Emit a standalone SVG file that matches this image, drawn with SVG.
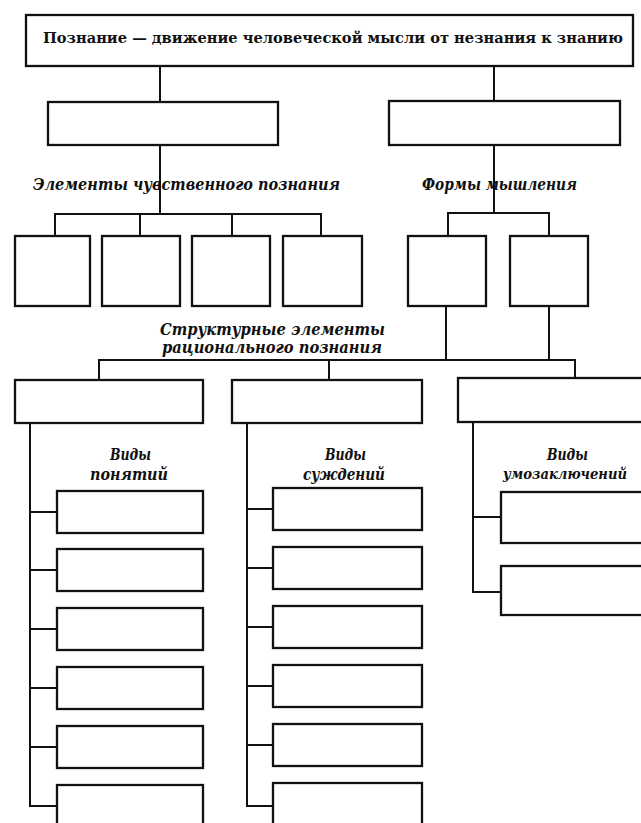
<svg xmlns="http://www.w3.org/2000/svg" width="641" height="823" viewBox="0 0 641 823">
<style>
.box{fill:#fff;stroke:#111;stroke-width:2.3}
.ln{fill:none;stroke:#111;stroke-width:2;stroke-linecap:square}
.title{font-family:"DejaVu Serif","Liberation Serif",serif;font-weight:bold;font-size:15px;fill:#111}
.lbl{font-family:"DejaVu Serif","Liberation Serif",serif;font-weight:bold;font-style:italic;font-size:16px;fill:#111}
</style>
<rect width="641" height="823" fill="#fff"/>
<g id="connectors" class="ln">
<path d="M160 66V102M494 66V101"/>
<path d="M160 145V214M55 214H321M55 214V236M140 214V236M232 214V236M321 214V236"/>
<path d="M494 145V213M448 213H549M448 213V236M549 213V236"/>
<path d="M446 306V360M549 306V360M99 360H575M99 360V380M329 360V380M575 360V378"/>
<path d="M30 423V806M30 512H57M30 570H57M30 629H57M30 688H57M30 747H57M30 806H57"/>
<path d="M247 423V806M247 509H273M247 568H273M247 627H273M247 686H273M247 745H273M247 806H273"/>
<path d="M473 422V592M473 517H501M473 592H501"/>
</g>
<g id="root"><rect class="box" x="26" y="15" width="607" height="51"/><text class="title" x="43" y="43" textLength="580" lengthAdjust="spacingAndGlyphs">Познание — движение человеческой мысли от незнания к знанию</text></g>
<g id="sense"><rect class="box" x="48" y="102" width="230" height="43"/></g>
<g id="rational"><rect class="box" x="389" y="101" width="231" height="44"/></g>
<g id="label-sense"><text class="lbl" x="33" y="190" textLength="307" lengthAdjust="spacingAndGlyphs">Элементы чувственного познания</text></g>
<g id="label-forms"><text class="lbl" x="422" y="190" textLength="155" lengthAdjust="spacingAndGlyphs">Формы мышления</text></g>
<g id="s1"><rect class="box" x="15" y="236" width="75" height="70"/></g>
<g id="s2"><rect class="box" x="102" y="236" width="78" height="70"/></g>
<g id="s3"><rect class="box" x="192" y="236" width="78" height="70"/></g>
<g id="s4"><rect class="box" x="283" y="236" width="79" height="70"/></g>
<g id="f1"><rect class="box" x="408" y="236" width="78" height="70"/></g>
<g id="f2"><rect class="box" x="510" y="236" width="78" height="70"/></g>
<g id="label-struct"><text class="lbl" x="160" y="335" textLength="225" lengthAdjust="spacingAndGlyphs">Структурные элементы</text><text class="lbl" x="162" y="353" textLength="220" lengthAdjust="spacingAndGlyphs">рационального познания</text></g>
<g id="concept"><rect class="box" x="15" y="380" width="188" height="43"/></g>
<g id="judgement"><rect class="box" x="232" y="380" width="190" height="43"/></g>
<g id="inference"><rect class="box" x="458" y="378" width="195" height="44"/></g>
<g id="label-concepts"><text class="lbl" x="110" y="460" textLength="41" lengthAdjust="spacingAndGlyphs">Виды</text><text class="lbl" x="90" y="480" textLength="78" lengthAdjust="spacingAndGlyphs">понятий</text></g>
<g id="label-judgements"><text class="lbl" x="325" y="460" textLength="41" lengthAdjust="spacingAndGlyphs">Виды</text><text class="lbl" x="303" y="480" textLength="82" lengthAdjust="spacingAndGlyphs">суждений</text></g>
<g id="label-inferences"><text class="lbl" x="547" y="460" textLength="41" lengthAdjust="spacingAndGlyphs">Виды</text><text class="lbl" x="503" y="479" style="font-size:14px" textLength="124" lengthAdjust="spacingAndGlyphs">умозаключений</text></g>
<g id="c1"><rect class="box" x="57" y="491" width="146" height="42"/></g>
<g id="c2"><rect class="box" x="57" y="549" width="146" height="42"/></g>
<g id="c3"><rect class="box" x="57" y="608" width="146" height="42"/></g>
<g id="c4"><rect class="box" x="57" y="667" width="146" height="42"/></g>
<g id="c5"><rect class="box" x="57" y="726" width="146" height="42"/></g>
<g id="c6"><rect class="box" x="57" y="785" width="146" height="46"/></g>
<g id="j1"><rect class="box" x="273" y="488" width="149" height="42"/></g>
<g id="j2"><rect class="box" x="273" y="547" width="149" height="42"/></g>
<g id="j3"><rect class="box" x="273" y="606" width="149" height="42"/></g>
<g id="j4"><rect class="box" x="273" y="665" width="149" height="42"/></g>
<g id="j5"><rect class="box" x="273" y="724" width="149" height="42"/></g>
<g id="j6"><rect class="box" x="273" y="783" width="149" height="48"/></g>
<g id="i1"><rect class="box" x="501" y="492" width="150" height="51"/></g>
<g id="i2"><rect class="box" x="501" y="566" width="150" height="49"/></g>
</svg>
